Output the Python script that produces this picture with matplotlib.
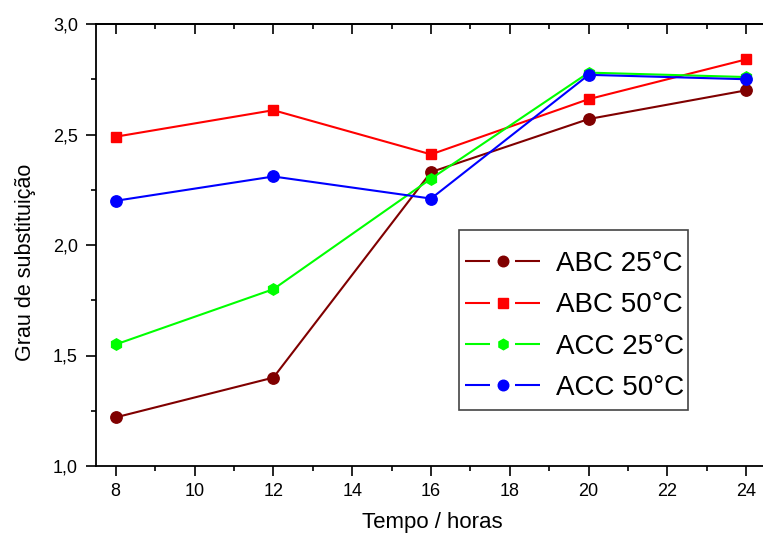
import matplotlib.pyplot as plt
import numpy as np
from matplotlib.lines import Line2D
from matplotlib.patches import Rectangle
from matplotlib.ticker import MultipleLocator

plt.rcParams['font.family'] = ['Liberation Sans', 'DejaVu Sans']
plt.rcParams['lines.scale_dashes'] = False

# tempo de reacao (h) e grau de substituicao
tempo = [8, 12, 16, 20, 24]
abc_25 = [1.22, 1.40, 2.33, 2.57, 2.70]
abc_50 = [2.49, 2.61, 2.41, 2.66, 2.84]
acc_25 = [1.55, 1.80, 2.30, 2.78, 2.76]
acc_50 = [2.20, 2.31, 2.21, 2.77, 2.75]

series = [
    (abc_25, "ABC 25°C", "#800000", "o"),
    (abc_50, "ABC 50°C", "#ff0000", "s"),
    (acc_25, "ACC 25°C", "#00ff00", "h"),
    (acc_50, "ACC 50°C", "#0000ff", "o"),
]

W, H = 763, 533
fig = plt.figure(figsize=(W / 100, H / 100), dpi=100)
ax = fig.add_axes([96 / W, 1 - 466 / H, 672 / W, 442 / H])

def msize(m):
    return 7.2 if m == "s" else 8.2

for y, lab, c, m in series:
    ax.plot(tempo, y, color=c, marker=m, markersize=msize(m), lw=1.5, label=lab)

ax.set_xlim(7.5, 24.55)
ax.set_ylim(1.0, 3.0)
ax.xaxis.set_major_locator(MultipleLocator(2))
ax.xaxis.set_minor_locator(MultipleLocator(1))
yt = np.arange(1.0, 3.01, 0.5)
ax.set_yticks(yt)
ax.set_yticklabels([f"{v:.1f}".replace('.', ',') for v in yt])
ax.yaxis.set_minor_locator(MultipleLocator(0.25))

ax.tick_params(axis='x', which='both', direction='out', top=False, labelsize=13, pad=5)
ax.tick_params(axis='y', which='both', direction='out', labelsize=13, pad=6)
ax.tick_params(which='major', length=7, width=1.2)
ax.tick_params(which='minor', length=3.5, width=1.2)
for s in ax.spines.values():
    s.set_linewidth(1.3)
ax.spines['right'].set_visible(False)

# ticks on the top frame point inward
sec = ax.secondary_xaxis('top')
sec.xaxis.set_major_locator(MultipleLocator(2))
sec.xaxis.set_minor_locator(MultipleLocator(1))
sec.tick_params(which='both', direction='in', labeltop=False, width=1.2)
sec.tick_params(which='major', length=7)
sec.tick_params(which='minor', length=3.5)
sec.spines['top'].set_linewidth(1.3)

ax.set_xlabel("Tempo / horas", fontsize=16)
ax.xaxis.set_label_coords(0.5, -0.105)
ax.set_ylabel("Grau de substituição", fontsize=15.5)
ax.yaxis.set_label_coords(-0.09, 0.46)

# legend: line - marker - line handles inside a plain box
handles = []
for y, lab, c, m in series:
    handles.append(Line2D([], [], color=c, lw=1.5, marker=m,
                          markersize=6.6 if m == "s" else 7.6,
                          linestyle=(0, (18, 18)), label=lab))
box = Rectangle((459 / W, 1 - 410 / H), 229 / W, 180 / H,
                transform=fig.transFigure, facecolor='white',
                edgecolor='#444444', lw=1.2, zorder=4, clip_on=False)
ax.add_patch(box)
leg = ax.legend(handles=handles, loc='upper left',
                bbox_to_anchor=(465 / W, 1 - 251 / H), bbox_transform=fig.transFigure,
                fontsize=20, handlelength=2.7, handletextpad=0.57, labelspacing=0.55,
                frameon=False, borderpad=0, borderaxespad=0)
leg.set_zorder(6)

fig.savefig("out.png", dpi=100)
